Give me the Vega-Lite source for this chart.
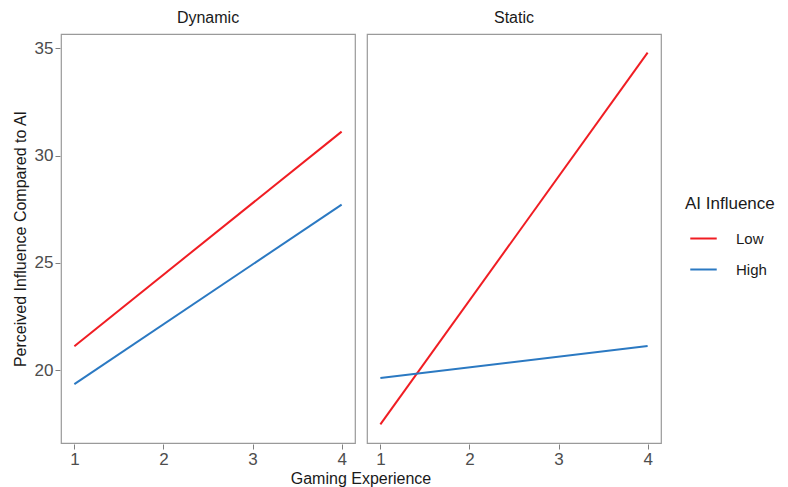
{
  "$schema": "https://vega.github.io/schema/vega-lite/v6.json",
  "background": "white",
  "padding": {"left": 12, "top": 10, "right": 5, "bottom": 0},
  "data": {
    "values": [
      {"condition": "Dynamic", "influence": "Low", "experience": 1, "perceived": 21.12},
      {"condition": "Dynamic", "influence": "Low", "experience": 4, "perceived": 31.12},
      {"condition": "Dynamic", "influence": "High", "experience": 1, "perceived": 19.35},
      {"condition": "Dynamic", "influence": "High", "experience": 4, "perceived": 27.72},
      {"condition": "Static", "influence": "Low", "experience": 1, "perceived": 17.48},
      {"condition": "Static", "influence": "Low", "experience": 4, "perceived": 34.8},
      {"condition": "Static", "influence": "High", "experience": 1, "perceived": 19.64},
      {"condition": "Static", "influence": "High", "experience": 4, "perceived": 21.13}
    ]
  },
  "facet": {
    "column": {
      "field": "condition",
      "type": "nominal",
      "header": {
        "title": "Gaming Experience",
        "titleOrient": "bottom",
        "labelOrient": "top",
        "labelFontSize": 16,
        "labelColor": "#1a1a1a",
        "labelFont": "Liberation Sans",
        "labelPadding": 7,
        "titleFontSize": 16,
        "titleFontWeight": "normal",
        "titleColor": "#1a1a1a",
        "titleFont": "Liberation Sans",
        "titlePadding": -6
      }
    }
  },
  "spacing": 10,
  "spec": {
    "width": 294,
    "height": 409,
    "mark": {"type": "line", "strokeWidth": 2},
    "encoding": {
      "x": {
        "field": "experience",
        "type": "quantitative",
        "scale": {"domain": [0.85, 4.15], "nice": false, "zero": false},
        "axis": {"values": [1, 2, 3, 4], "title": null, "format": "d"}
      },
      "y": {
        "field": "perceived",
        "type": "quantitative",
        "scale": {"domain": [16.61, 35.67], "nice": false, "zero": false},
        "axis": {"values": [20, 25, 30, 35], "title": "Perceived Influence Compared to AI"}
      },
      "color": {
        "field": "influence",
        "type": "nominal",
        "scale": {"domain": ["Low", "High"], "range": ["#f01d23", "#2b79c2"]},
        "legend": {"title": "AI Influence", "orient": "none", "legendX": 624, "legendY": 162}
      },
      "detail": {"field": "influence"}
    }
  },
  "config": {
    "font": "Liberation Sans",
    "view": {"stroke": "#9a9a9a", "strokeWidth": 1.2},
    "axis": {
      "grid": false,
      "domain": false,
      "ticks": true,
      "tickColor": "#7f7f7f",
      "tickSize": 5,
      "labelFontSize": 17,
      "labelColor": "#4d4d4d",
      "labelFont": "Liberation Sans",
      "labelPadding": 2,
      "titleFontSize": 16,
      "titleFontWeight": "normal",
      "titleColor": "#1a1a1a",
      "titleFont": "Liberation Sans",
      "titlePadding": 6
    },
    "legend": {
      "symbolType": "stroke",
      "symbolStrokeWidth": 2,
      "symbolSize": 700,
      "symbolOffset": 4,
      "titleFontSize": 17,
      "titleFontWeight": "normal",
      "titleColor": "#1a1a1a",
      "titleFont": "Liberation Sans",
      "labelFontSize": 15,
      "labelColor": "#1a1a1a",
      "labelFont": "Liberation Sans",
      "rowPadding": 8,
      "titlePadding": 11,
      "labelOffset": 18,
      "padding": 0
    }
  }
}
